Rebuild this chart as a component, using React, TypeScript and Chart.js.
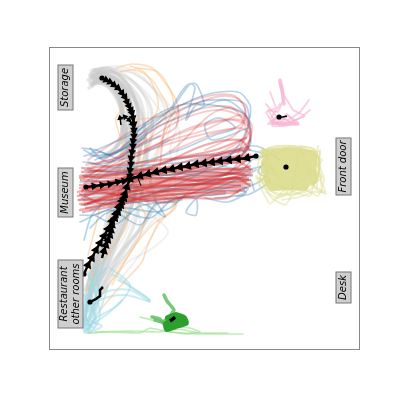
import React, { useEffect, useRef } from "react";
import { Chart, registerables } from "chart.js";
Chart.register(...registerables);

const xRange = [50, 359];
const yRange = [48, 349];

const greyPaths: number[][] = [
  [92,72,105,70,120,76,132,92,138,112,136,140,132,165,124,195,110,235,92,280],
  [90,78,102,72,118,80,128,96,134,120,134,150,130,175,120,205,106,240,88,290],
  [92,84,100,76,112,84,124,100,130,122,130,150,126,180,115,215,102,250,86,300],
  [94,82,100,80,114,88,122,104,126,128,128,155,122,185,110,225,96,265,85,320],
  [96,72,115,72,135,84,150,105,152,130,146,160,136,190,124,220,108,255,90,300],
  [92,76,110,80,122,95,128,112,122,128,128,150,136,175,132,205,118,240,96,285],
  [94,82,104,82,116,92,122,108,124,130,130,160,120,190,104,235,90,275],
  [96,78,108,80,120,96,122,120,122,138,114,150,102,158],
  [98,82,110,88,120,104,122,130,118,145,106,156],
  [100,72,122,82,136,100,144,122,146,150,150,180,155,205,135,235,110,265,90,295],
  [88,80,104,76,126,90,132,118,128,146,124,168,150,210,128,245,100,290],
  [92,78,114,84,128,104,136,130,140,160,142,190,132,230,108,275,88,325],
  [98,74,114,78,124,92,130,110,126,132,118,170,110,205,102,240,90,280],
  [90,84,104,84,116,98,124,120,132,160,136,190,122,230,100,270,86,310],
  [91,73,108,74,124,86,136,106,140,130,138,160,126,200,112,240,94,285],
  [93,80,110,78,128,90,140,112,146,140,142,170,130,210,116,245,98,290],
  [90,76,106,78,120,90,128,108,132,135,133,165,118,215,104,250,88,295],
  [95,70,112,72,128,84,140,100,144,120,140,150,134,182,120,225,100,268,87,305],
  [92,86,104,78,118,84,130,102,134,128,128,170,114,210,98,255,85,290],
  [90,82,108,84,122,98,124,122,126,145,130,170,110,222,92,270],
  [90,75,104,74,116,82,126,94,132,110,124,138,112,150,100,157],
  [93,70,108,68,122,78,134,96,138,122,128,146,110,154],
  [89,88,102,80,114,90,121,110,122,132,116,146],
];

const paleGreyPaths: number[][] = [
  [100,68,125,70,150,85,165,110,163,135,150,165,140,200,125,235,105,270,92,310],
  [90,70,112,68,130,78,145,98,148,125,140,150,128,172,112,160,104,160],
  [92,74,120,74,142,88,158,108,170,128,160,150,150,185,146,220,130,250,100,280],
  [94,70,118,66,140,75,160,95,178,118,170,150,175,190,145,230,115,270,95,310],
  [110,70,135,74,156,92,172,116,180,135,165,200,150,240,120,280],
  [120,205,150,215,168,232,150,250,128,262,104,290],
  [135,200,140,225,130,250,112,275,98,300],
];

const orangePaths: number[][] = [
  [116,68,132,64,152,68,166,84,176,100,178,112,170,124,160,145,152,168,146,180],
  [120,72,135,70,150,78,160,92,168,110,156,128,146,150,140,172],
  [130,66,144,72,155,90,158,108,150,125,142,146,136,170],
  [122,90,128,100,116,118,118,130,124,150,120,170],
  [146,190,176,205,160,222,150,240,146,250,142,262,124,282,100,310],
  [130,195,145,214,138,240,120,268,102,295],
  [118,190,128,222,112,248,95,272,88,290],
  [100,205,96,225,88,255],
  [160,190,178,198,170,212,152,225,132,250,112,285],
  [112,205,106,232,92,262,86,295],
  [200,180,185,195,172,205],
  [135,68,158,72,172,95,172,112,150,118,132,120],
];

const cyanPaths: number[][] = [
  [92,270,86,290,84,320,86,333,92,325,96,300],
  [100,262,92,285,86,310,84,332,94,320,100,290],
  [106,268,96,280,88,300,86,330,100,310,108,285],
  [112,275,120,278,132,288,150,300,148,301,125,295,100,300,88,312],
  [118,280,128,285,145,296,150,302,130,290,105,292,88,305],
  [94,265,98,285,92,305,88,325,106,315,122,300],
  [88,275,96,295,100,315,94,328,86,318,88,295],
  [104,258,100,280,95,300,90,320,102,326,88,333],
  [84,295,90,305,96,320,90,333,84,320],
  [110,268,130,285,118,305,96,318,86,330],
  [88,285,92,300,86,315,90,330,85,308,93,280],
  [98,270,90,290,94,310,86,325,96,296,88,272],
];

const bluePaths: number[][] = [
  [84,150,95,156,110,162,130,150,155,128,186,115,225,100,248,118,246,132,230,155,200,170,160,176],
  [82,148,96,150,112,155,128,142,152,118,180,105,212,105,245,115,250,145,226,165,180,178],
  [88,162,115,168,150,165,200,160,250,146,262,148,280,160],
  [85,170,110,172,160,170,200,176,240,172,252,160,268,155],
  [80,182,120,180,165,178,210,182,250,180,254,190],
  [84,195,120,190,170,186,215,184,248,188,240,195,215,198],
  [90,210,130,198,175,195,210,190,245,176,256,170],
  [80,215,95,215,120,205,160,200,195,198,196,215,186,212,200,196,240,185],
  [78,200,108,195,160,192,198,185,232,170,250,140],
  [90,156,118,152,145,130,172,108,190,84,195,88,186,120,196,105,204,105,196,84,186,86,170,110],
  [95,160,130,145,165,118,200,102,232,100,246,105,250,125],
  [84,240,92,215,110,200,146,205,165,217,155,200],
  [80,222,110,210,140,225,155,205,182,200],
  [88,172,130,165,180,150,215,135,235,128,220,118,205,125,212,140,248,128],
  [82,175,130,172,175,160,210,155,248,160],
  [86,188,130,180,170,172,215,172,252,176],
  [92,152,130,135,168,112,205,95,238,92,250,105,250,118],
  [88,180,125,172,170,175,210,165,245,170,268,166,262,180,240,190],
  [80,195,112,186,150,188,200,190,246,192,228,202,205,198],
  [84,205,112,202,148,195,195,176,240,150,248,155],
  [90,228,105,214,125,208,155,212,170,208,185,195],
  [84,156,100,152,118,158,136,148,160,136],
  [90,148,102,158,122,150,145,138],
  [83,162,100,164,118,160,140,155,170,140],
  [120,210,150,218,172,200,200,196,225,194],
  [96,216,116,224,140,206,176,202],
  [250,150,268,156,258,172,270,180,250,194,236,196],
];

const redPaths: number[][] = [
  [82,172,120,170,165,168,210,165,250,160],
  [80,178,118,175,165,172,212,170,248,168],
  [84,184,122,180,168,178,208,176,250,172],
  [80,188,120,186,162,182,208,180,246,176],
  [82,192,122,188,170,186,210,184,250,180],
  [78,196,118,192,165,190,210,186,250,184],
  [84,200,125,195,168,192,212,188,246,188],
  [80,204,120,198,160,195,205,192,244,190],
  [86,208,125,200,165,198,205,195,238,192],
  [80,176,112,178,162,175,205,172,252,175],
  [82,198,118,184,160,180,205,178,250,170],
  [88,168,120,165,160,160,205,155,248,148],
  [85,205,120,190,160,170,200,158,248,150],
  [83,212,118,205,150,195,190,185,235,178,248,180],
  [80,185,110,190,150,185,190,175,228,172,250,158],
  [88,190,128,176,170,160,215,150,246,138],
  [78,192,112,182,160,165,205,145,240,140,250,150],
  [82,205,115,195,148,188,195,168,240,163,252,170],
  [80,194,104,204,148,200,190,198,226,198,240,190],
  [84,186,122,196,165,202,205,188,236,178,250,186],
  [81,180,115,182,150,178,200,180,248,178],
  [83,190,112,194,155,186,200,184,246,182],
  [79,200,110,200,150,192,195,190,240,186],
  [85,194,125,186,175,184,220,176,250,166],
  [82,168,110,172,150,170,200,168,240,170],
  [88,204,130,192,165,187,215,182,244,174],
  [80,210,112,204,145,198,180,194,225,192],
  [84,176,122,174,158,174,210,160,250,155],
];

const redArcPaths: number[][] = [
  [86,165,118,158,155,148,200,135,240,128,250,135,245,152,215,165],
  [90,175,120,155,150,132,190,112,225,106,246,116,246,136,225,150,185,170],
  [84,178,116,160,150,138,185,118,222,110,248,122,248,142,215,160,170,172],
  [90,170,125,145,160,122,195,104,222,96,240,100,246,116,235,135,205,150],
  [82,190,120,165,155,145,195,128,232,120,250,128,240,145,210,158,170,170],
  [88,160,125,135,160,115,200,98,232,95,245,108,240,125,210,135,170,152],
  [85,182,125,158,165,142,205,130,240,115,252,125,248,148],
  [92,165,115,158,145,142,175,128,178,108,165,128,160,165],
  [92,180,125,172,172,150,210,115,232,108,246,130,235,160],
  [86,174,130,160,180,132,220,120,246,122,250,140,238,162],
];

const yellowPaths: number[][] = [
  [266,154,288,152,312,155,312,164,290,160,266,162,266,170,290,168,312,172,312,180,292,177,268,178,272,186,290,185,304,186],
];

const yellowWisps: number[][] = [
  [262,150,258,165,262,182,272,198,285,205,292,196,306,190,318,196,324,180,319,165,322,190],
  [300,146,316,150,320,168,314,186,325,192,312,192,300,197,282,200],
  [258,152,276,146,294,146,306,150,320,152,316,170],
  [275,200,284,190,270,204,262,190,256,176,266,184],
  [310,186,322,178,318,172,326,194,318,190],
  [260,158,272,150,278,166,262,172,260,186,280,194,296,194,310,190,318,178,318,158,304,148,284,148],
  [258,170,268,182,264,160,280,180,262,150,290,196,300,148,316,190,320,150],
  [256,160,290,150,322,160,280,196,258,178,310,196,318,146],
  [266,192,278,198,296,190,316,182,320,160,312,148,290,146,268,148],
];

const pinkPaths: number[][] = [
  [279,82,283,100,278,112,268,110,276,122,290,122,305,116,293,110,284,95,281,86],
  [270,92,276,108,266,112,274,124,287,114,296,124,282,118,270,120,280,104],
  [309,100,300,112,288,120,276,118,268,124,286,124,300,118,310,110],
  [266,104,276,116,272,126,284,126,298,122,288,116,278,124],
];

const pinkThick: number[][] = [
  [280,80,282,88,283,96,284,104],
  [272,122,280,124,290,124,298,124],
];

const lightGreenPaths: number[][] = [
  [88,333,110,332,140,333,150,328,170,332,200,334,243,334],
  [140,317,155,321,170,326,190,328,200,332,185,334,165,331],
  [95,332,130,331,158,332,178,329,200,333,228,333],
];

const midGreenPaths: number[][] = [
  [164,295,167,301,171,306,174,310,170,316,163,322,155,320],
  [152,317,160,319,164,324],
];

const darkGreenPaths: number[][] = [
  [168,318,176,315,184,318,186,323,176,326,167,329,166,324,176,321,184,320,176,318,170,322],
];

const blackTopArm = [102,78,106,80,110,82,114,85,118,88,122,93,125,97,127,102,129,106,131,110,132,113,133,118,134,124,134,130,134,136,133,141,133,146,132,152,131,158,131,164,130,170,130,176];
const blackHook = [121,125,120,118,125,117,129,120,132,124,134,132];
const blackBottomArm = [84,274,88,265,92,258,96,250,100,243,104,236,108,229,112,221,116,214,119,207,122,201,125,194,127,187,130,178];
const blackSecond = [102,258,104,251,106,245,108,240,110,235,111,230,112,225,115,218,118,212,121,205,124,198];
const blackRightArm = [256,156,247,158,238,159,229,160,220,161,212,162,204,163,196,164,188,166,180,167,172,169,164,170,156,172,148,174,140,176,130,179];
const blackLeftArm = [86,187,94,186,102,185,110,184,118,182,124,181,130,179];
const blackTwig = [133,176,138,178,141,186];
const blackRest = [90,302,96,299,100,296,100,290,103,287];
const blackGreen = [170,321,173,319,175,317];
const blackFront = [286,167,286.5,167];
const blackPink = [279,117,283,117,287,116];

const labelTexts = [
  { lines: ["Storage"], x: 65.5, y: 87.5, w: 15, h: 45 },
  { lines: ["Museum"], x: 65.5, y: 192.5, w: 15, h: 49 },
  { lines: ["Restaurant", "other rooms"], x: 70.5, y: 294, w: 25, h: 68 },
  { lines: ["Front door"], x: 343.5, y: 166.5, w: 15, h: 57 },
  { lines: ["Desk"], x: 343.5, y: 287.5, w: 15, h: 31 },
];

const toPoints = (flat: number[]) => {
  const out: { x: number; y: number }[] = [];
  for (let i = 0; i + 1 < flat.length; i += 2) out.push({ x: flat[i], y: flat[i + 1] });
  return out;
};

const faint = (paths: number[][], color: string, width: number, tension = 0.3) =>
  paths.map((p) => ({
    data: toPoints(p),
    borderColor: color,
    borderWidth: width,
    pointRadius: 0,
    tension,
    fill: false,
    borderCapStyle: "round" as const,
    borderJoinStyle: "round" as const,
  }));

const arrowed = (flat: number[], size: number, dot: boolean, lineWidth = 2.5) => {
  const pts = toPoints(flat);
  return {
    data: pts,
    borderColor: "#000",
    borderWidth: lineWidth,
    tension: 0,
    fill: false,
    pointBackgroundColor: "#000",
    pointBorderColor: "#000",
    pointBorderWidth: 0,
    pointRadius: (c: any) => (c.dataIndex === 0 ? (dot ? 2.6 : 0) : size),
    pointStyle: (c: any) => (c.dataIndex === 0 ? "circle" : "triangle"),
    pointRotation: (c: any) => {
      const i = c.dataIndex;
      const a = pts[Math.max(i - 1, 0)];
      const b = pts[i];
      return (Math.atan2(b.x - a.x, -(b.y - a.y)) * 180) / Math.PI;
    },
  };
};

const framePlugin = {
  id: "frameAndLabels",
  afterDraw(chart: any) {
    const { ctx, chartArea: a, scales } = chart;
    ctx.save();
    ctx.strokeStyle = "#888";
    ctx.lineWidth = 1;
    ctx.strokeRect(a.left - 0.5, a.top - 0.5, a.width + 1, a.height + 1);
    ctx.font = "italic 10px 'DejaVu Sans'";
    ctx.textAlign = "center";
    ctx.textBaseline = "middle";
    for (const l of labelTexts) {
      const cx = scales.x.getPixelForValue(l.x);
      const cy = scales.y.getPixelForValue(l.y);
      ctx.fillStyle = "#cfcfcf";
      ctx.strokeStyle = "#777";
      ctx.fillRect(cx - l.w / 2, cy - l.h / 2, l.w, l.h);
      ctx.strokeRect(cx - l.w / 2, cy - l.h / 2, l.w, l.h);
      ctx.save();
      ctx.translate(cx, cy);
      ctx.rotate(-Math.PI / 2);
      ctx.fillStyle = "#000";
      l.lines.forEach((t, i) => ctx.fillText(t, 0, (i - (l.lines.length - 1) / 2) * 12));
      ctx.restore();
    }
    ctx.restore();
  },
};

export default function App() {
  const ref = useRef<HTMLCanvasElement>(null);
  useEffect(() => {
    document.body.style.margin = "0";
    const layers = [
      ...faint(paleGreyPaths, "rgba(199,199,199,0.25)", 2),
      ...faint(greyPaths, "rgba(199,199,199,0.42)", 3.4),
      ...faint(orangePaths, "rgba(255,187,120,0.5)", 1.5),
      ...faint(cyanPaths, "rgba(158,218,229,0.5)", 2),
      ...faint(bluePaths, "rgba(31,119,180,0.32)", 1.7),
      ...faint(redArcPaths, "rgba(214,39,40,0.24)", 1.8),
      ...faint(redPaths, "rgba(214,39,40,0.38)", 2.3),
      ...faint(yellowWisps, "rgba(219,219,141,0.45)", 1.8, 0.15),
      ...faint(yellowPaths, "rgba(219,219,141,0.9)", 10, 0.05),
      ...faint(pinkPaths, "rgba(247,182,210,0.65)", 1.8, 0.05),
      ...faint(pinkThick, "rgba(247,182,210,0.8)", 3.5, 0.05),
      ...faint(lightGreenPaths, "rgba(152,223,138,0.6)", 1.6, 0.1),
      ...faint(midGreenPaths, "rgba(100,190,100,0.85)", 3.5, 0.1),
      ...faint(darkGreenPaths, "rgba(44,160,44,1)", 6, 0.1),
      arrowed(blackTopArm, 4.5, true),
      arrowed(blackHook, 3.5, false, 1.5),
      arrowed(blackBottomArm, 5.2, true),
      arrowed(blackSecond, 5.2, false),
      arrowed(blackRightArm, 5.2, true),
      arrowed(blackLeftArm, 4.5, true),
      arrowed(blackTwig, 0, false, 1),
      arrowed(blackRest, 0, true, 2.5),
      arrowed(blackGreen, 0, false, 3.5),
      arrowed(blackFront, 0, true),
      arrowed(blackPink, 0, true, 1.5),
    ];
    // Chart.js paints the first dataset last, so the bottom layer goes at the end.
    const chart = new Chart(ref.current as HTMLCanvasElement, {
      type: "line",
      data: { datasets: layers.reverse() as any },
      options: {
        animation: false,
        responsive: false,
        devicePixelRatio: 1,
        layout: { padding: { left: 50, right: 40, top: 48, bottom: 50 } },
        plugins: { legend: { display: false }, tooltip: { enabled: false } },
        scales: {
          x: { type: "linear", min: xRange[0], max: xRange[1], display: false },
          y: { type: "linear", min: yRange[0], max: yRange[1], reverse: true, display: false },
        },
      },
      plugins: [framePlugin],
    });
    return () => chart.destroy();
  }, []);
  return <canvas ref={ref} width={399} height={399} style={{ display: "block" }} />;
}
